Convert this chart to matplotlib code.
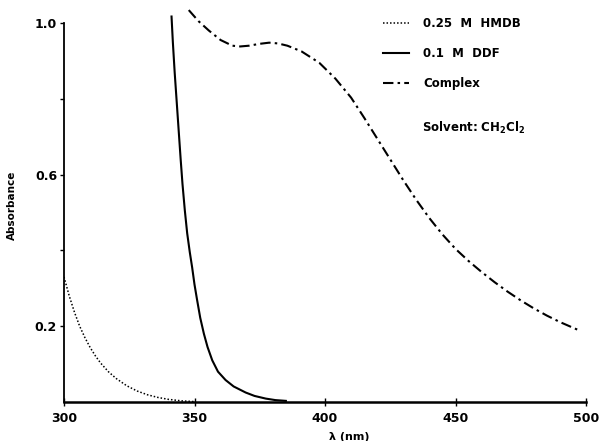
import matplotlib
matplotlib.use("Agg")
import matplotlib.pyplot as plt

# --- data ---
hmdb_wl = [300, 302, 304, 306, 308, 310, 312, 314, 317, 320, 324, 328, 332, 336, 340, 345, 350]
hmdb_abs = [0.33, 0.28, 0.237, 0.2, 0.17, 0.144, 0.122, 0.103, 0.08, 0.062, 0.043, 0.029,
            0.019, 0.012, 0.007, 0.003, 0.001]

ddf_wl = [341.2, 341.7, 342.4, 343.2, 344.0, 344.7, 345.4, 346.3, 347.2, 348.2, 349.1, 350.0,
          351.0, 352.2, 353.6, 355.0, 356.8, 359.0, 361.9, 365.0, 369.6, 373.0, 377.3, 381.0, 385.0]
ddf_abs = [1.017, 0.95, 0.87, 0.79, 0.71, 0.64, 0.575, 0.505, 0.445, 0.395, 0.355, 0.31,
           0.269, 0.222, 0.18, 0.145, 0.11, 0.08, 0.058, 0.041, 0.025, 0.016, 0.009, 0.005, 0.003]

cplx_wl = [347.8, 351.5, 355.5, 360.0, 364.5, 367.5, 370.9, 375.0, 378.6, 382.0, 385.6, 391.0,
           397.8, 404.0, 410.0, 415.0, 420.0, 425.0, 430.0, 435.0, 440.0, 445.0, 450.0, 455.0,
           460.0, 465.0, 470.0, 475.0, 480.0, 485.0, 490.0, 495.0, 497.7]
cplx_abs = [1.034, 1.005, 0.98, 0.955, 0.94, 0.938, 0.94, 0.945, 0.948, 0.946, 0.94, 0.925,
            0.895, 0.853, 0.803, 0.75, 0.695, 0.64, 0.585, 0.533, 0.485, 0.442, 0.404, 0.372,
            0.343, 0.316, 0.291, 0.268, 0.247, 0.228, 0.211, 0.196, 0.188]

x_ticks = [300, 350, 400, 450, 500]
y_ticks = [0.2, 0.4, 0.6, 0.8, 1.0]
y_ticklabels = ["0.2", "", "0.6", "", "1.0"]
labels = ["0.25  M  HMDB", "0.1  M  DDF", "Complex"]

plt.rcParams['font.family'] = ['DejaVu Sans']
plt.rcParams['font.weight'] = 'bold'

fig = plt.figure(figsize=(6.03, 4.41), dpi=100)
left, right = 64 / 603, 586 / 603
bottom = 1 - 402 / 441
top = 1 - 7.8 / 441
ax = fig.add_axes([left, bottom, right - left, top - bottom])

ax.plot(hmdb_wl, hmdb_abs, color='black', linestyle=(0, (1, 1.3)), linewidth=1.1, label=labels[0])
ax.plot(ddf_wl, ddf_abs, color='black', linestyle='-', linewidth=1.5, label=labels[1])
ax.plot(cplx_wl, cplx_abs, color='black', linestyle=(0, (5, 2, 1.2, 2)), linewidth=1.5, label=labels[2])

ax.set_xlim(300, 500)
ax.set_ylim(0, 1.04)
for s in ['top', 'right']:
    ax.spines[s].set_visible(False)
ax.spines['left'].set_bounds(0, 1.0)
ax.spines['left'].set_linewidth(1.3)
ax.spines['bottom'].set_linewidth(1.8)

ax.set_xticks(x_ticks)
ax.set_xticklabels([str(t) for t in x_ticks], fontsize=9, fontweight='bold')
ax.set_yticks(y_ticks)
ax.set_yticklabels(y_ticklabels, fontsize=9, fontweight='bold')
ax.tick_params(axis='x', direction='inout', length=6, width=1, pad=4)
ax.tick_params(axis='y', direction='out', length=3, width=1, pad=2)

ax.set_xlabel("λ (nm)", fontsize=8, fontweight='bold')
ax.xaxis.set_label_coords((349 - 64) / (586 - 64), -0.075)
ax.set_ylabel("Absorbance", fontsize=7.5, fontweight='bold')
ax.yaxis.set_label_coords(-0.09, 0.5)

leg = ax.legend(loc='upper left', bbox_to_anchor=(383 / 603, 1 - 17 / 441),
                bbox_transform=fig.transFigure, frameon=False, fontsize=8.5,
                handlelength=2.2, handletextpad=1.2, labelspacing=1.45,
                borderpad=0, borderaxespad=0)
for t in leg.get_texts():
    t.set_fontweight('bold')

fig.text(422 / 603, 1 - 128 / 441, r"Solvent: $\mathbf{CH_2Cl_2}$", fontsize=8.5,
         fontweight='bold', va='center', ha='left')

fig.savefig("out.png", dpi=100)
